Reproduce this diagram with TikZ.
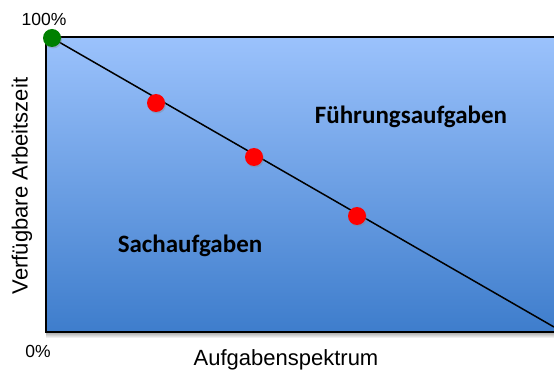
\documentclass[tikz,border=0pt]{standalone}
\usepackage{fontspec}
\setmainfont{Liberation Sans}
\newfontfamily\calibri{Carlito}
\usepackage{tikz}
\usetikzlibrary{shadows}
\usepackage{xcolor}
\definecolor{areatop}{RGB}{155,194,252}
\definecolor{areabot}{RGB}{62,125,204}
\definecolor{dotgreen}{RGB}{0,128,0}
\definecolor{dotred}{RGB}{255,0,0}

\begin{document}
\begin{tikzpicture}[
  x=1pt,y=-1pt,
  axislabel/.style={font=\fontsize{22}{24}\selectfont,inner sep=0pt},
  ticklabel/.style={font=\fontsize{17.5}{19}\selectfont,inner sep=0pt},
  region/.style={font=\calibri\bfseries\fontsize{25}{27}\selectfont,inner sep=0pt},
  dot/.style={circle,minimum size=18pt,inner sep=0pt,
              drop shadow={shadow xshift=1pt,shadow yshift=-1.5pt,opacity=0.35}},
  border/.style={line width=1.5pt,draw=black}
]
\useasboundingbox (0,0) rectangle (554,374);
% plot area with shadow
\shade[top color=black!35,bottom color=white] (46,332) rectangle (554,338);
\shade[top color=areatop,bottom color=areabot] (46,37) rectangle (554,332);
\draw[border] (554,37) -- (46,37) -- (46,332) -- (554,332);

\coordinate (start) at (52,38);
\coordinate (end) at (554,327);
\draw[line width=1.5pt] (start) -- (end);

\node[dot,fill=dotgreen] (top) at (start) {};
\node[dot,fill=dotred] (p1) at (156,103) {};
\node[dot,fill=dotred] (p2) at (254,157) {};
\node[dot,fill=dotred] (p3) at (357,216) {};

\node[region] (fuehrung) at (411,117) {Führungsaufgaben};
\node[region] (sach) at (190,246) {Sachaufgaben};

\node[ticklabel] (hundred) at (44,19) {100\%};
\node[ticklabel] (zero) at (38,351) {0\%};
\node[axislabel] (xlab) at (286,360) {Aufgabenspektrum};
\node[axislabel,rotate=90] (ylab) at (22,186) {Verfügbare Arbeitszeit};
\end{tikzpicture}
\end{document}
